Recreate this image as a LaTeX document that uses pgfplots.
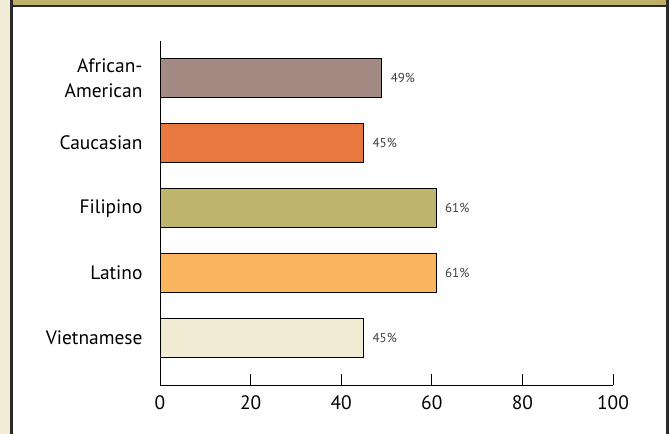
\documentclass[border=0pt]{standalone}
\usepackage{pgfplots}
\pgfplotsset{compat=1.18}
\usepackage{fontspec}
\setmainfont{PT Sans}
\definecolor{olive}{HTML}{BDB06A}
\definecolor{cream}{HTML}{F3ECD6}
\definecolor{frame}{HTML}{2A2A2A}
\definecolor{cAA}{HTML}{A38B84}
\definecolor{cCa}{HTML}{E8783D}
\definecolor{cFi}{HTML}{BFB46E}
\definecolor{cLa}{HTML}{FBB55E}
\definecolor{cVi}{HTML}{F2EBD3}
\begin{document}
\begin{tikzpicture}[x=1bp,y=1bp]
\useasboundingbox (0,0) rectangle (669,-434);
\fill[white] (0,0) rectangle (669,-434);
\fill[cream] (0,0) rectangle (11,-434);
\fill[olive] (11,0) rectangle (667,-6);
\fill[frame] (10,0) rectangle (12.5,-434);
\fill[frame] (10,-5.5) rectangle (668,-7.5);
\fill[frame] (666,0) rectangle (668.5,-434);
\fill[gray!40] (668.5,0) rectangle (669,-434);
\begin{axis}[
  at={(160bp,-385bp)}, anchor=south west,
  scale only axis, width=453bp, height=344bp,
  xmin=0, xmax=100, ymin=-0.72, ymax=4.57,
  axis lines=left, axis line style={-, line width=1pt},
  xtick={0,20,...,100}, xtick align=inside,
  major tick length=11bp, tick style={line width=1pt, black},
  ytick={0,1,2,3,4}, yticklabels={Vietnamese,Latino,Filipino,Caucasian,{African-\\American}},
  yticklabel style={align=right, font=\fontsize{19.5}{25}\selectfont, xshift=-3bp},
  ytick style={draw=none},
  xticklabel style={font=\fontsize{19.5}{23}\selectfont, yshift=-7bp},
  /pgf/number format/assume math mode=true,
  xbar, bar width=39bp, bar shift=0pt,
  nodes near coords={\pgfmathprintnumber{\pgfplotspointmeta}\%},
  nodes near coords style={font=\fontsize{13}{15}\selectfont, text=black!75, anchor=west, xshift=5bp},
  clip=false,
]
\addplot[draw=black, line width=1pt, fill=cVi] coordinates {(45,0)};
\addplot[draw=black, line width=1pt, fill=cLa] coordinates {(61,1)};
\addplot[draw=black, line width=1pt, fill=cFi] coordinates {(61,2)};
\addplot[draw=black, line width=1pt, fill=cCa] coordinates {(45,3)};
\addplot[draw=black, line width=1pt, fill=cAA] coordinates {(49,4)};
\end{axis}
\end{tikzpicture}
\end{document}
